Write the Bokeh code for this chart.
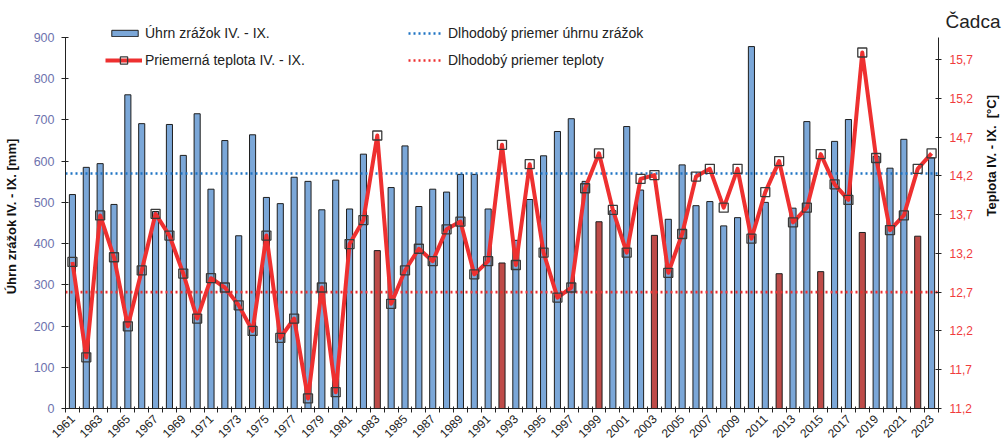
from bokeh.plotting import figure
from bokeh.models import (Range1d, LinearAxis, FixedTicker, CustomJSTickFormatter,
                          Legend, LegendItem, ColumnDataSource)
from bokeh.embed import file_html
from bokeh.resources import INLINE
import math

years = list(range(1961, 2024))
precip = [519, 585, 594, 495, 761, 691, 478, 689, 614, 715,
          532, 650, 419, 664, 512, 497, 561, 551, 482, 554,
          484, 617, 383, 536, 637, 490, 532, 525, 568, 568,
          484, 353, 408, 507, 613, 672, 703, 551, 453, 480,
          684, 530, 420, 459, 591, 492, 502, 443, 463, 878,
          500, 327, 486, 696, 332, 648, 701, 427, 612, 583,
          653, 418, 608]
temp = [13.09, 11.86, 13.69, 13.15, 12.26, 12.98, 13.71, 13.43, 12.94, 12.36,
        12.88, 12.76, 12.53, 12.20, 13.43, 12.11, 12.36, 11.33, 12.76, 11.41,
        13.32, 13.63, 14.72, 12.55, 12.98, 13.26, 13.10, 13.51, 13.61, 12.93,
        13.10, 14.60, 13.05, 14.35, 13.21, 12.63, 12.76, 14.04, 14.49, 13.76,
        13.21, 14.16, 14.21, 12.95, 13.45, 14.19, 14.29, 13.79, 14.29, 13.39,
        13.99, 14.39, 13.60, 13.79, 14.48, 14.09, 13.89, 15.79, 14.43, 13.50,
        13.69, 14.29, 14.49]
red_years = [1983, 1992, 1999, 2003, 2012, 2015, 2018, 2022]
precip_mean = 570
temp_mean = 12.7
precip_ticks = [0, 100, 200, 300, 400, 500, 600, 700, 800, 900]
temp_ticks = [11.2, 11.7, 12.2, 12.7, 13.2, 13.7, 14.2, 14.7, 15.2, 15.7]
year_label_ticks = years[::2]

FONT = "Liberation Sans"
BLUE = "#7BA7D8"
DARKRED = "#BE4B48"
RED = "#EE3030"

bar_colors = [DARKRED if y in red_years else BLUE for y in years]
src = ColumnDataSource(dict(year=years, precip=precip, temp=temp, color=bar_colors))

# layout: frame extends 13 px above the 900 mm level so the legend fits inside it
FW, FH = 873, 384
AXIS_PX = 371                      # pixels from 0 mm to 900 mm
HEAD = FH - AXIS_PX                # extra pixels above the axes' top
P_TOP = precip_ticks[-1]
P_END = P_TOP + HEAD * P_TOP / AXIS_PX
T_PER_PX = 4.5 / 349
T_TOP = temp_ticks[0] + AXIS_PX * T_PER_PX
T_END = temp_ticks[0] + FH * T_PER_PX

p = figure(frame_width=FW, frame_height=FH, output_backend="svg", toolbar_location=None,
           x_range=Range1d(years[0] - 0.5, years[-1] + 0.5),
           y_range=Range1d(precip_ticks[0], P_END),
           min_border_left=59, min_border_right=60, min_border_top=24, min_border_bottom=36)
p.extra_y_ranges = {"temp": Range1d(temp_ticks[0], T_END)}
p.outline_line_color = None
p.xgrid.visible = False
p.ygrid.visible = False
p.background_fill_color = "white"
p.border_fill_color = "white"

# title
p.title.text = "Čadca"
p.title.align = "right"
p.title.offset = -62
p.title.standoff = -14
p.title.text_font = FONT
p.title.text_font_size = "19px"
p.title.text_font_style = "normal"
p.title.text_color = "#222"

# bars
bars = p.vbar(x="year", top="precip", width=0.44, bottom=0, source=src,
              fill_color="color", line_color="#1e1e1e", line_width=1)

# long-term means
xs_mean = [years[0] - 0.5, years[-1] + 0.5]
pm = p.line(xs_mean, [precip_mean, precip_mean], line_color="#1f74c4", line_width=2.6,
            line_dash="2 3")
tm = p.line(xs_mean, [temp_mean, temp_mean], y_range_name="temp", line_color=RED,
            line_width=2.6, line_dash="2 3")

# temperature
tl = p.line("year", "temp", source=src, y_range_name="temp", line_color=RED, line_width=4,
            line_join="round")
ts = p.scatter("year", "temp", source=src, y_range_name="temp", marker="square", size=9,
               fill_alpha=0, line_color="#3a3a3a", line_width=1.3)

# axes
xa = p.xaxis[0]
xa.ticker = FixedTicker(ticks=year_label_ticks,
                        minor_ticks=[y - 0.5 for y in years] + [years[-1] + 0.5])
xa.major_tick_in = 0
xa.major_tick_out = 0
xa.minor_tick_in = 2
xa.minor_tick_out = 4
xa.minor_tick_line_color = "#222"
xa.axis_line_color = "#222"
xa.major_label_orientation = math.pi / 4
xa.major_label_standoff = 4
xa.major_label_text_font = FONT
xa.major_label_text_font_size = "12px"
xa.major_label_text_color = "#222"

ya = p.yaxis[0]
ya.ticker = FixedTicker(ticks=precip_ticks)
ya.bounds = (precip_ticks[0], P_TOP)
ya.minor_tick_line_color = None
ya.major_tick_in = 3
ya.major_tick_out = 4
ya.major_tick_line_color = "#222"
ya.axis_line_color = "#222"
ya.major_label_standoff = 7
ya.major_label_text_font = FONT
ya.major_label_text_font_size = "12.5px"
ya.major_label_text_color = "#6E72AE"
ya.axis_label = "Úhrn zrážok IV. - IX. [mm]"
ya.axis_label_text_font = FONT
ya.axis_label_text_font_style = "bold"
ya.axis_label_text_font_size = "13px"
ya.axis_label_text_color = "#111"
ya.axis_label_standoff = 12

ra = LinearAxis(y_range_name="temp", ticker=FixedTicker(ticks=temp_ticks),
                formatter=CustomJSTickFormatter(code="return tick.toFixed(1).replace('.', ',');"))
ra.bounds = (temp_ticks[0], T_TOP)
ra.minor_tick_line_color = None
ra.major_tick_in = 3
ra.major_tick_out = 3
ra.major_tick_line_color = "#222"
ra.axis_line_color = "#222"
ra.major_label_standoff = 8
ra.major_label_text_font = FONT
ra.major_label_text_font_size = "12px"
ra.major_label_text_color = "#F03C3C"
ra.axis_label = "Teplota IV. - IX.\u00a0\u00a0[°C]"
ra.axis_label_orientation = math.pi / 2
ra.axis_label_text_font = FONT
ra.axis_label_text_font_style = "bold"
ra.axis_label_text_font_size = "13px"
ra.axis_label_text_color = "#111"
ra.axis_label_standoff = 16
p.add_layout(ra, "right")

# legends (one per row/column for precise placement)
def mk_legend(items, loc, gh, gw, standoff):
    lg = Legend(items=items, location=loc, orientation="vertical",
                border_line_color=None, background_fill_alpha=0, padding=0, margin=0,
                glyph_height=gh, glyph_width=gw, label_height=18, label_standoff=standoff,
                label_text_font=FONT, label_text_font_size="14px", label_text_color="#222")
    p.add_layout(lg)

ROW1 = FH - 18
ROW2 = FH - 45
mk_legend([LegendItem(label="Úhrn zrážok IV. - IX.", renderers=[bars])], (43, ROW1), 8, 33, 4)
mk_legend([LegendItem(label="Priemerná teplota IV. - IX.", renderers=[tl, ts])], (40, ROW2), 18, 37, 3)
mk_legend([LegendItem(label="Dlhodobý priemer úhrnu zrážok", renderers=[pm])], (343, ROW1), 18, 33, 7)
mk_legend([LegendItem(label="Dlhodobý priemer teploty", renderers=[tm])], (343, ROW2), 18, 33, 7)

open("out.html", "w").write(file_html(p, INLINE))
